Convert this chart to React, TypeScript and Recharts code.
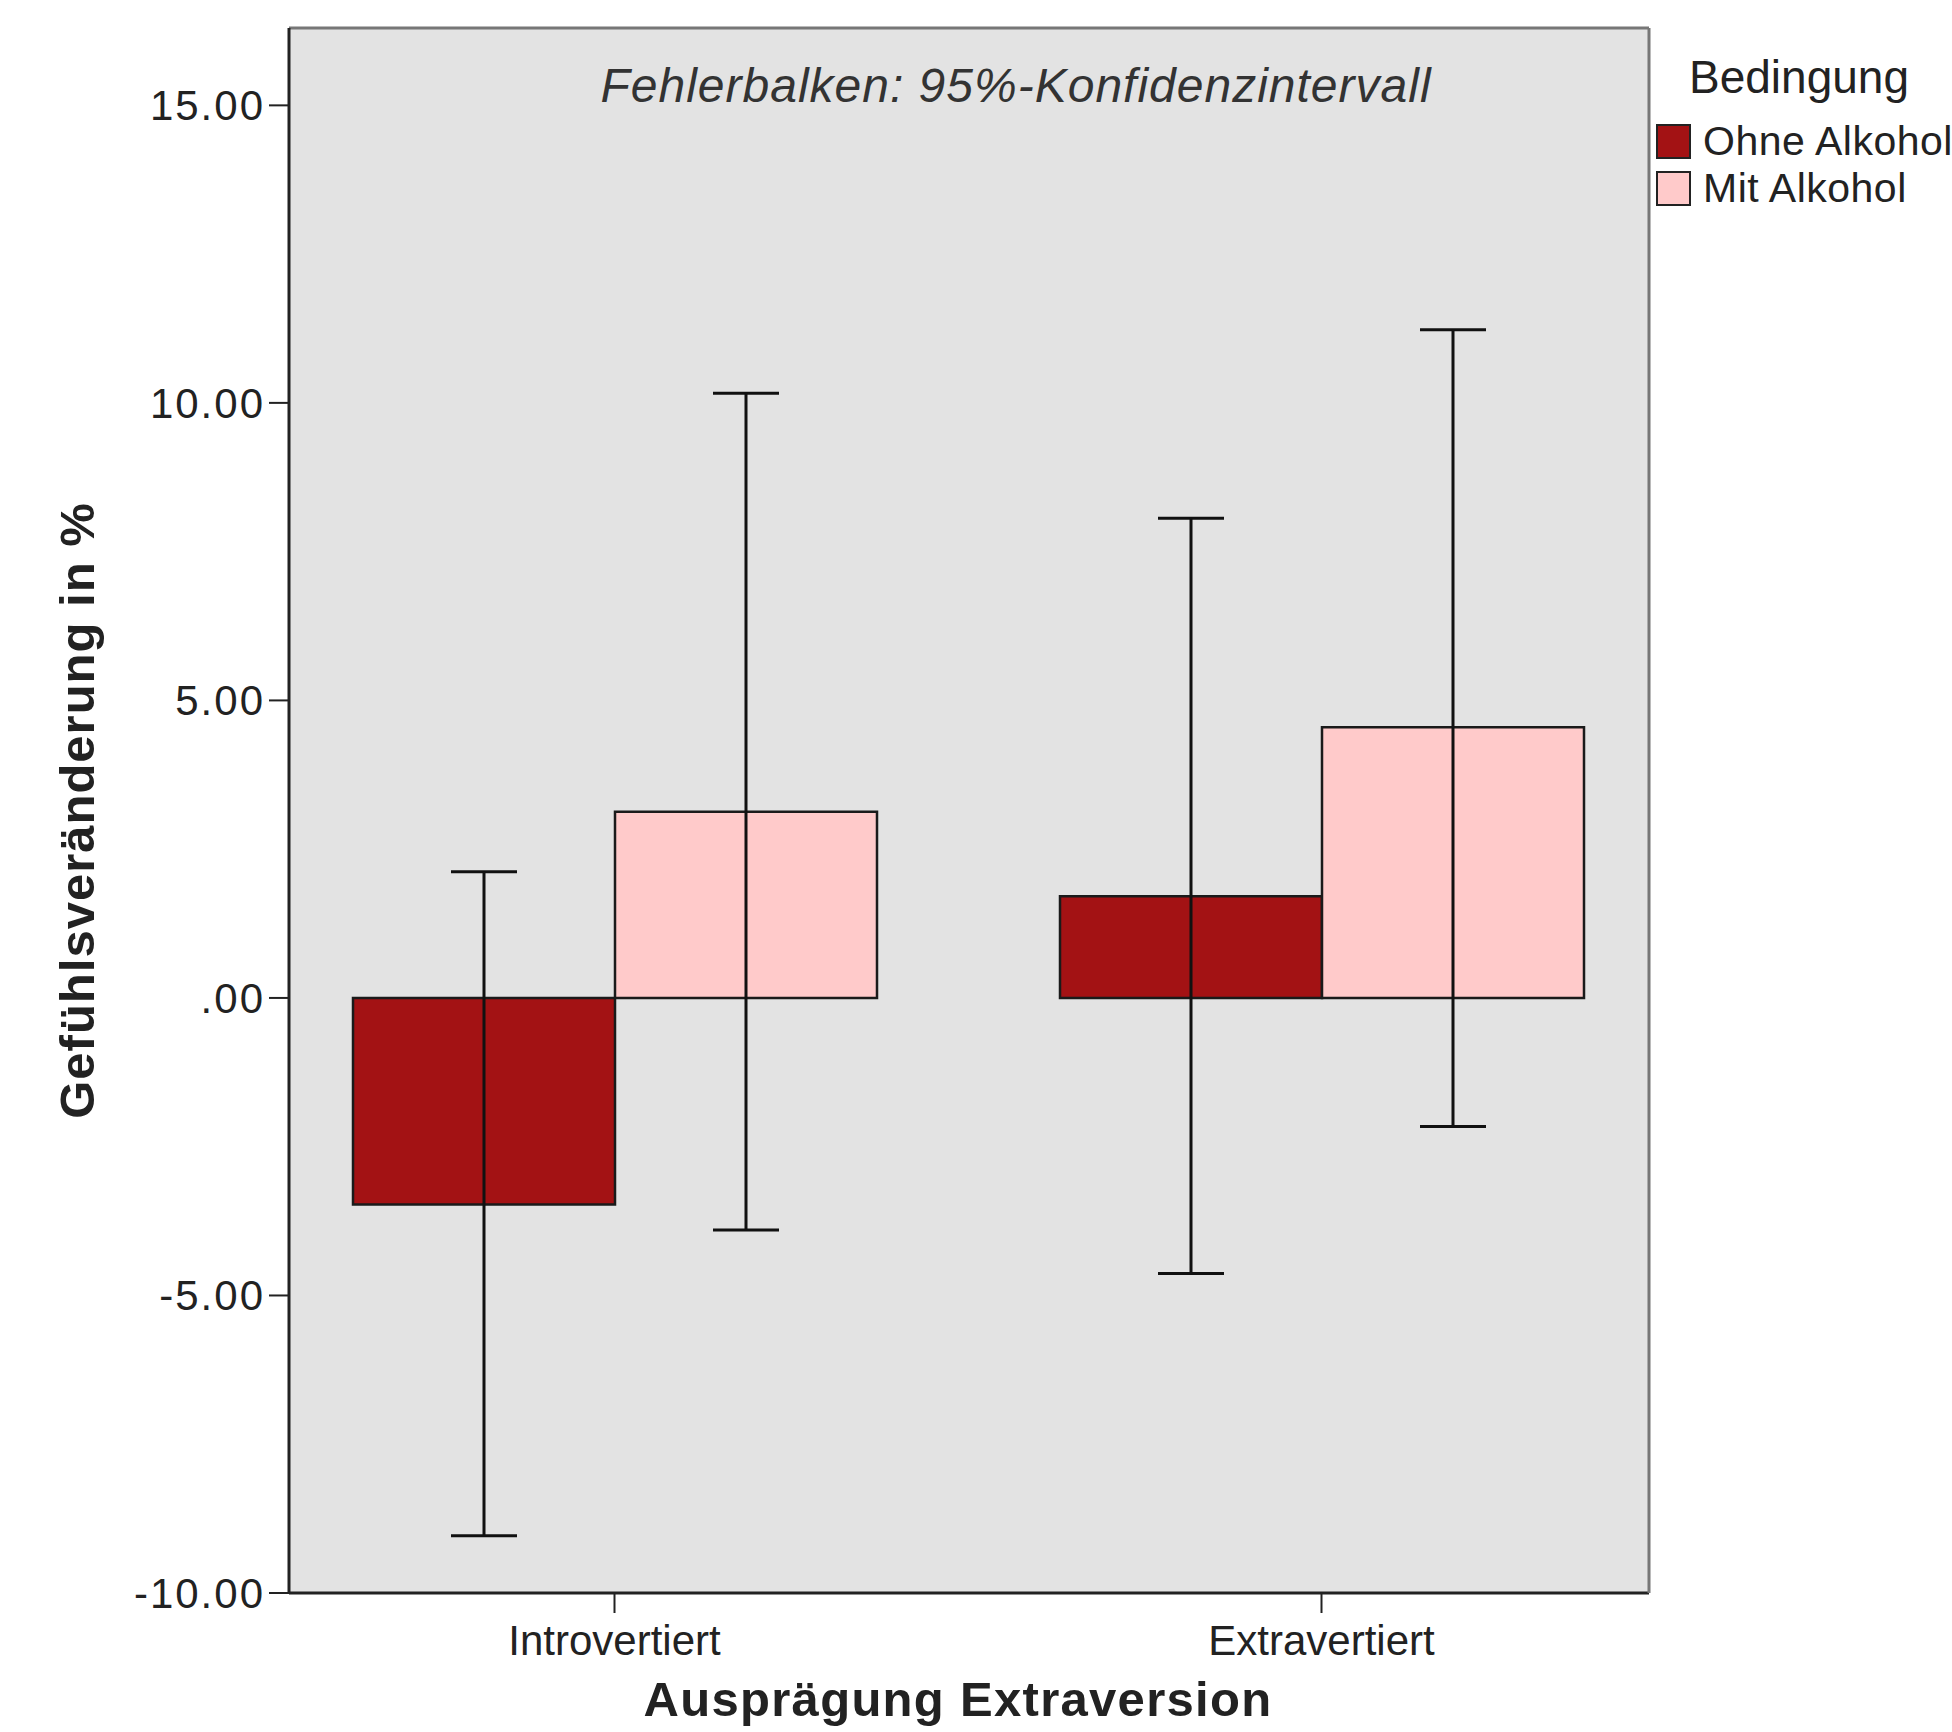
import React from "react";
import {
  BarChart,
  Bar,
  XAxis,
  YAxis,
  CartesianGrid,
  ErrorBar,
  Legend,
  Label,
} from "recharts";

// categories and series (means with 95% CI bounds)
const groups = ["Introvertiert", "Extravertiert"];
const seriesNames = ["Ohne Alkohol", "Mit Alkohol"];
const ohneMean = [-3.47, 1.71];
const ohneLow = [-9.04, -4.63];
const ohneHigh = [2.12, 8.06];
const mitMean = [3.13, 4.55];
const mitLow = [-3.9, -2.16];
const mitHigh = [10.16, 11.23];
const yTicks = [-10, -5, 0, 5, 10, 15];

const data = groups.map((g, i) => ({
  group: g,
  ohne: ohneMean[i],
  mit: mitMean[i],
  errOhne: [ohneMean[i] - ohneLow[i], ohneHigh[i] - ohneMean[i]],
  errMit: [mitMean[i] - mitLow[i], mitHigh[i] - mitMean[i]],
}));

const FONT = '"Liberation Sans", Arial, sans-serif';
const TEXT = "#222";

const fmt = (v: number) => (v === 0 ? ".00" : v.toFixed(2));

const LegendBox = ({ payload }: { payload?: any[] }) => {
  // keep the series order (recharts sorts legend items by name)
  const items = [...(payload || [])].sort(
    (a, b) => seriesNames.indexOf(a.value) - seriesNames.indexOf(b.value)
  );
  return (
    <div style={{ position: "relative", width: 300, height: 220, fontFamily: FONT, color: TEXT }}>
      <div style={{ position: "absolute", left: 37, top: 50, fontSize: 46, lineHeight: "54px", whiteSpace: "nowrap" }}>
        Bedingung
      </div>
      {items.map((p, i) => (
        <div
          key={p.value}
          style={{
            position: "absolute",
            left: 4,
            top: 118 + i * 47,
            height: 46,
            display: "flex",
            alignItems: "center",
            whiteSpace: "nowrap",
          }}
        >
          <span
            style={{
              width: 31,
              height: 31,
              background: p.color,
              border: "2px solid #222",
              display: "inline-block",
            }}
          />
          <span style={{ marginLeft: 12, fontSize: 41, letterSpacing: 0.5 }}>{p.value}</span>
        </div>
      ))}
    </div>
  );
};

export default function App() {
  return (
    <div style={{ position: "absolute", left: 0, top: 0, background: "#fff" }}>
      <BarChart
        width={1952}
        height={1732}
        data={data}
        margin={{ top: 27, right: 302, bottom: 0, left: 60 }}
        barGap={0}
        barCategoryGap={92}
      >
        <CartesianGrid horizontal={false} vertical={false} fill="#e3e3e3" />
        <XAxis
          dataKey="group"
          height={139}
          padding={{ left: -28, right: -26 }}
          axisLine={{ stroke: "#222", strokeWidth: 3 }}
          tickLine={{ stroke: "#222", strokeWidth: 2 }}
          tickSize={20}
          tickMargin={12}
          tick={{ fill: TEXT, fontSize: 42, fontFamily: FONT }}
        >
          <Label
            value="Ausprägung Extraversion"
            position="insideBottom"
            offset={16}
            dx={-11}
            style={{ fontFamily: FONT, fontSize: 49, fontWeight: "bold", fill: TEXT, letterSpacing: 1.3 }}
          />
        </XAxis>
        <XAxis
          xAxisId="top"
          dataKey="group"
          orientation="top"
          height={1}
          tick={false}
          tickLine={false}
          axisLine={{ stroke: "#777", strokeWidth: 3 }}
        >
          <Label
            value="Fehlerbalken: 95%-Konfidenzintervall"
            position="bottom"
            offset={40}
            dx={47}
            style={{ fontFamily: FONT, fontSize: 48, fontStyle: "italic", fill: "#333", letterSpacing: 1 }}
          />
        </XAxis>
        <YAxis
          width={229}
          domain={[-10, 16.3]}
          ticks={yTicks}
          allowDataOverflow
          tickFormatter={fmt}
          axisLine={{ stroke: "#222", strokeWidth: 3 }}
          tickLine={{ stroke: "#222", strokeWidth: 2 }}
          tickSize={20}
          tickMargin={4}
          tick={{ fill: TEXT, fontSize: 42, fontFamily: FONT, letterSpacing: 2 }}
        >
          <Label
            value="Gefühlsveränderung in %"
            angle={-90}
            position="insideLeft"
            offset={17}
            style={{ textAnchor: "middle", fontFamily: FONT, fontSize: 49, fontWeight: "bold", fill: TEXT, letterSpacing: 1 }}
          />
        </YAxis>
        <YAxis
          yAxisId="right"
          orientation="right"
          width={1}
          domain={[-10, 16.3]}
          tick={false}
          tickLine={false}
          axisLine={{ stroke: "#777", strokeWidth: 3 }}
        />
        <Legend
          layout="horizontal"
          align="center"
          verticalAlign="middle"
          content={<LegendBox />}
          wrapperStyle={{ left: 1652, top: 0, width: 300, height: 220 }}
        />
        <Bar
          dataKey="ohne"
          name="Ohne Alkohol"
          fill="#a31214"
          stroke="#1a1a1a"
          strokeWidth={2.5}
          isAnimationActive={false}
        >
          <ErrorBar dataKey="errOhne" width={33} stroke="#111" strokeWidth={3} />
        </Bar>
        <Bar
          dataKey="mit"
          name="Mit Alkohol"
          fill="#ffcaca"
          stroke="#1a1a1a"
          strokeWidth={2.5}
          isAnimationActive={false}
        >
          <ErrorBar dataKey="errMit" width={33} stroke="#111" strokeWidth={3} />
        </Bar>
      </BarChart>
    </div>
  );
}
